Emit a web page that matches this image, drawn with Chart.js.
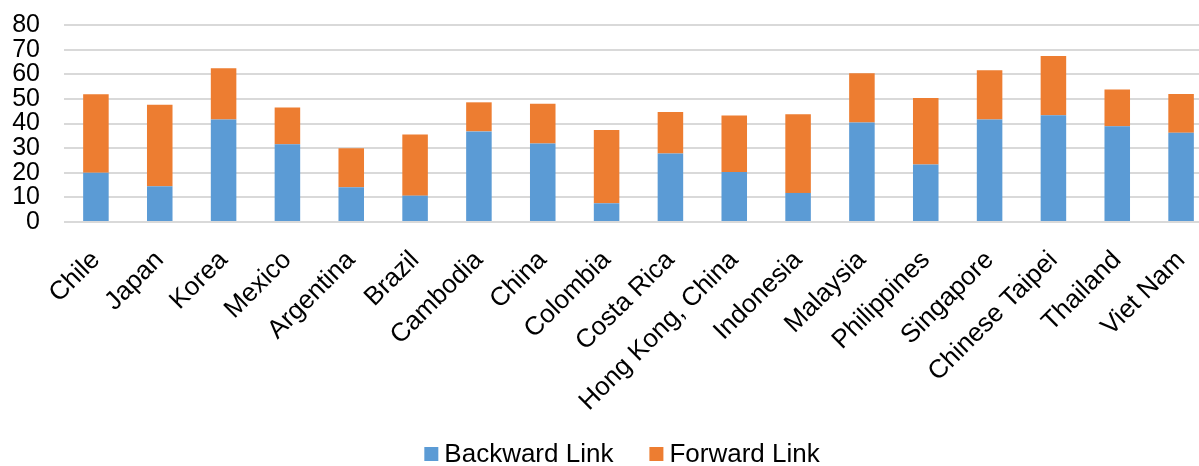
<!DOCTYPE html>
<html>
<head>
<meta charset="utf-8">
<script src="https://cdn.jsdelivr.net/npm/chart.js@4/dist/chart.umd.min.js"></script>
<style>
  html, body { margin: 0; padding: 0; background: #fff; }
  #wrap { width: 1199px; height: 466px; overflow: hidden; position: relative; }
  canvas { display: block; }
</style>
</head>
<body>
<div id="wrap"><canvas id="links" width="1213" height="466"></canvas></div>
<script>
// Economies along the x axis
const economies = [
  'Chile', 'Japan', 'Korea', 'Mexico', 'Argentina', 'Brazil', 'Cambodia', 'China',
  'Colombia', 'Costa Rica', 'Hong Kong, China', 'Indonesia', 'Malaysia', 'Philippines',
  'Singapore', 'Chinese Taipei', 'Thailand', 'Viet Nam'
];

// Backward link share (lower segment)
const backwardLink = [
  20.0, 14.5, 41.6, 31.6, 14.1, 10.7, 36.8, 31.9,
  7.6, 27.8, 20.3, 11.8, 40.4, 23.4,
  41.6, 43.4, 38.9, 36.2
];

// Forward link share (upper segment)
const forwardLink = [
  31.9, 33.1, 20.8, 14.9, 15.9, 24.8, 11.8, 16.1,
  29.8, 16.9, 22.9, 32.0, 20.0, 27.0,
  20.0, 24.0, 14.9, 15.8
];

// Value axis ticks
const yTicks = [0, 10, 20, 30, 40, 50, 60, 70, 80];

const FONT = '"Liberation Sans", Arial, Helvetica, sans-serif';

// Simple legend row drawn under the axis labels
const bottomLegend = {
  id: 'bottomLegend',
  afterDraw(chart, args, opts) {
    const ctx = chart.ctx;
    ctx.save();
    ctx.font = opts.size + 'px ' + FONT;
    ctx.textBaseline = 'alphabetic';
    ctx.textAlign = 'left';
    const items = chart.data.datasets.map(ds => ({
      text: ds.label,
      color: ds.backgroundColor,
      w: ctx.measureText(ds.label).width
    }));
    const total = items.reduce((s, it) => s + opts.box + opts.gap + it.w, 0) +
      opts.spacing * (items.length - 1);
    let x = opts.centerX - total / 2;
    for (const it of items) {
      ctx.fillStyle = it.color;
      ctx.fillRect(x, opts.boxTop, opts.box, opts.box);
      ctx.fillStyle = '#000';
      ctx.fillText(it.text, x + opts.box + opts.gap, opts.baseline);
      x += opts.box + opts.gap + it.w + opts.spacing;
    }
    ctx.restore();
  }
};

new Chart(document.getElementById('links'), {
  type: 'bar',
  data: {
    labels: economies,
    datasets: [
      {
        label: 'Backward Link',
        data: backwardLink,
        backgroundColor: '#5B9BD5',
        barPercentage: 0.4,
        categoryPercentage: 1
      },
      {
        label: 'Forward Link',
        data: forwardLink,
        backgroundColor: '#ED7D31',
        barPercentage: 0.4,
        categoryPercentage: 1
      }
    ]
  },
  options: {
    responsive: false,
    animation: false,
    devicePixelRatio: 1,
    layout: { padding: { left: 12, top: 25, right: 0, bottom: 0 } },
    plugins: {
      legend: { display: false },
      tooltip: { enabled: false },
      bottomLegend: {
        size: 26, box: 14, gap: 6, spacing: 36,
        centerX: 622, boxTop: 447, baseline: 461.5
      }
    },
    scales: {
      x: {
        stacked: true,
        grid: { display: false, drawTicks: false },
        border: { display: false },
        afterFit: s => { s.paddingLeft = 0; s.paddingRight = 0; s.height = 244; },
        ticks: {
          autoSkip: false,
          minRotation: 45,
          maxRotation: 45,
          padding: 23,
          color: '#000',
          font: { family: FONT, size: 26 }
        }
      },
      y: {
        stacked: true,
        min: 0,
        max: 80,
        afterBuildTicks: axis => { axis.ticks = yTicks.map(v => ({ value: v })); },
        afterFit: s => { s.paddingTop = 0; s.paddingBottom = 0; s.width = 52; },
        grid: { color: '#D9D9D9', lineWidth: 2, drawTicks: false },
        border: { display: false },
        ticks: {
          autoSkip: false,
          padding: 24,
          color: '#000',
          font: { family: FONT, size: 25 }
        }
      }
    }
  },
  plugins: [bottomLegend]
});
</script>
</body>
</html>
